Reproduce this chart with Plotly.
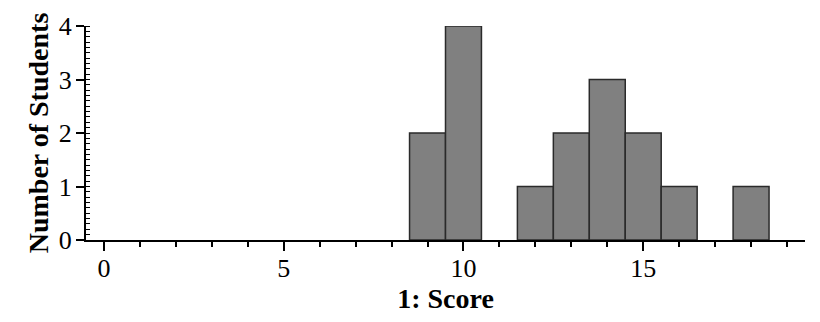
import plotly.graph_objects as go

scores = [9, 10, 12, 13, 14, 15, 16, 18]
counts = [2, 4, 1, 2, 3, 2, 1, 1]
x_tickvals = [0, 5, 10, 15]
y_tickvals = [0, 1, 2, 3, 4]

FONT = "Liberation Serif"

fig = go.Figure(
    go.Bar(
        x=scores,
        y=counts,
        width=1,
        marker=dict(color="#808080", line=dict(color="#2a2a2a", width=1.5)),
    )
)

fig.update_layout(
    width=820,
    height=322,
    margin=dict(l=86, r=15, t=26, b=82),
    plot_bgcolor="white",
    paper_bgcolor="white",
    showlegend=False,
    font=dict(family=FONT, color="black", size=26),
)

fig.update_xaxes(
    range=[-0.5, 19.5],
    showline=True, linecolor="black", linewidth=2,
    showgrid=False, zeroline=False,
    tickmode="array", tickvals=x_tickvals, ticktext=[str(v) for v in x_tickvals],
    ticks="outside", ticklen=9, tickwidth=1.5, tickcolor="black",
    minor=dict(dtick=1, ticks="outside", ticklen=5, tickwidth=1.5, tickcolor="black", showgrid=False),
    tickfont=dict(family=FONT, size=26, color="black"),
    ticklabelstandoff=-5,
    title=dict(text="1: Score", font=dict(family=FONT, size=28, weight="bold"), standoff=0),
    automargin=False,
)

fig.update_yaxes(
    range=[0, 4],
    showline=True, linecolor="black", linewidth=2,
    showgrid=False, zeroline=False,
    tickmode="array", tickvals=y_tickvals, ticktext=[str(v) for v in y_tickvals],
    ticks="outside", ticklen=8, tickwidth=1.5, tickcolor="black",
    minor=dict(dtick=0.1, tick0=0, ticks="inside", ticklen=4, tickwidth=1, tickcolor="black", showgrid=False),
    tickfont=dict(family=FONT, size=26, color="black"),
    ticklabelstandoff=-1,
    title=dict(text="Number of Students", font=dict(family=FONT, size=28, weight="bold"), standoff=2),
    automargin=False,
)

fig.write_html("out.html")
